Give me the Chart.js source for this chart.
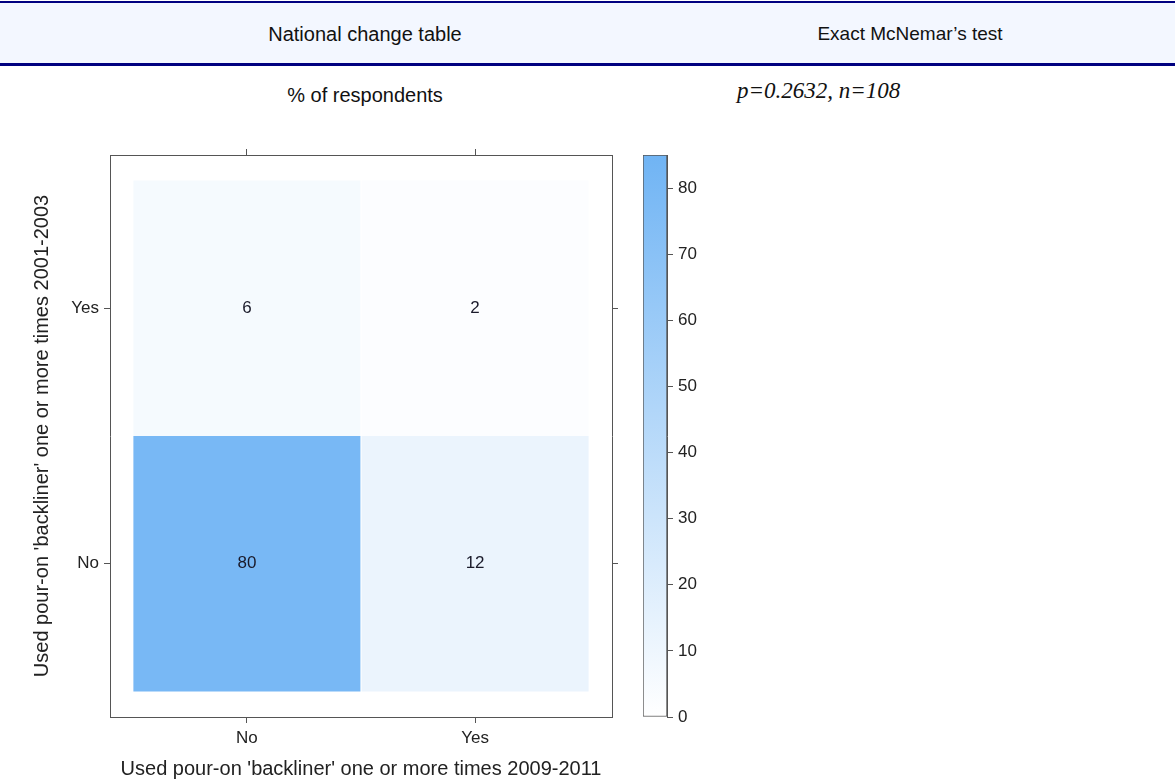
<!DOCTYPE html>
<html>
<head>
<meta charset="utf-8">
<title>National change table</title>
<script src="https://cdn.jsdelivr.net/npm/chart.js@4.4.1/dist/chart.umd.min.js"></script>
<style>
  body { margin: 0; background: #fff; font-family: "Liberation Sans", Arial, sans-serif; }
  #page { position: relative; width: 1175px; height: 781px; overflow: hidden; }
  .header {
    position: absolute; left: 0; top: 1px; width: 1175px; height: 60px;
    background: #f3f7ff; border-top: 2px solid #000080; border-bottom: 3px solid #000080;
  }
  .htext { position: absolute; top: 20px; font-size: 20px; color: #111; text-align: center; white-space: pre; }
  .sub { position: absolute; left: 215px; width: 300px; top: 84px; font-size: 20px; color: #111; text-align: center; }
  .pval { position: absolute; left: 737px; top: 78px; font-family: "Liberation Serif", "Times New Roman", serif; font-style: italic; font-size: 23px; color: #111; }
  canvas { position: absolute; top: 0; }
</style>
</head>
<body>
<div id="page">
  <div class="header">
    <div class="htext" style="left:215px;width:300px;">National change table</div>
    <div class="htext" style="left:760px;width:300px;font-size:19px;">Exact McNemar’s test</div>
  </div>
  <div class="sub">% of respondents</div>
  <div class="pval">p=0.2632, n=108</div>
  <div style="position:absolute;left:0;top:0;width:640px;height:781px;"><canvas id="table"></canvas></div>
  <div style="position:absolute;left:620px;top:0;width:120px;height:781px;"><canvas id="scale"></canvas></div>
</div>
<script>
// answers, 2009-2011 across, 2001-2003 up
const xLabels = ['No', 'Yes'];
const yLabels = ['No', 'Yes'];

// % of respondents in each cell, one array per 2001-2003 answer
const rowNo = [80, 12];
const rowYes = [6, 2];

// colour key
const keyTicks = [0, 10, 20, 30, 40, 50, 60, 70, 80];
const keyMax = 85;

const lowColor = [255, 255, 255];
const highColor = [112, 180, 244];

function cellColor(v) {
    const t = Math.min(v / keyMax, 1);
    const c = lowColor.map((lo, i) => Math.round(lo + (highColor[i] - lo) * t));
    return `rgb(${c[0]},${c[1]},${c[2]})`;
}

const rows = [rowNo, rowYes];
const cells = [];
rows.forEach((row, r) => {
    row.forEach((v, c) => {
        cells.push({ x: c, y: [r - 0.5, r + 0.5], v });
    });
});

const axisColor = '#555';
const tickFont = { family: '"Liberation Sans", Arial, sans-serif', size: 17 };
const titleFont = { family: '"Liberation Sans", Arial, sans-serif', size: 20 };

// write the value in the middle of each cell
const cellLabels = {
    id: 'cellLabels',
    afterDatasetsDraw(chart) {
        const { ctx } = chart;
        const meta = chart.getDatasetMeta(0);
        ctx.save();
        ctx.font = '17px "Liberation Sans", Arial, sans-serif';
        ctx.fillStyle = '#1a1a2a';
        ctx.textAlign = 'center';
        ctx.textBaseline = 'middle';
        meta.data.forEach((bar, i) => {
            const p = bar.getCenterPoint();
            ctx.fillText(cells[i].v, p.x, p.y);
        });
        ctx.restore();
    }
};

function twoTicks(scale) {
    scale.ticks = [{ value: 0 }, { value: 1 }];
}

const sideGrid = { display: true, drawOnChartArea: false, drawTicks: true, tickLength: 6, color: axisColor, offset: false };

new Chart(document.getElementById('table'), {
    type: 'bar',
    data: {
        datasets: [{
            data: cells,
            backgroundColor: cells.map(c => cellColor(c.v)),
            borderWidth: 0,
            barPercentage: 0.995,
            categoryPercentage: 1
        }]
    },
    options: {
        responsive: true,
        maintainAspectRatio: false,
        animation: false,
        layout: { padding: { left: 0, right: 0, top: 145, bottom: 0 } },
        plugins: { legend: { display: false }, tooltip: { enabled: false } },
        scales: {
            x: {
                type: 'linear', position: 'bottom', min: -0.6, max: 1.6, offset: false,
                afterBuildTicks: twoTicks,
                afterFit: s => { s.height = 64; },
                ticks: { callback: v => xLabels[v], font: tickFont, color: '#222', padding: 5, maxRotation: 0 },
                grid: sideGrid,
                border: { display: true, color: axisColor },
                title: {
                    display: true, text: "Used pour-on 'backliner' one or more times 2009-2011",
                    font: titleFont, color: '#222', padding: { top: 0, bottom: 0 }
                }
            },
            x2: {
                type: 'linear', position: 'top', min: -0.6, max: 1.6, offset: false,
                afterBuildTicks: twoTicks,
                afterFit: s => { s.height = 10; },
                ticks: { display: false },
                grid: sideGrid,
                border: { display: true, color: axisColor }
            },
            y: {
                type: 'linear', position: 'left', min: -0.6, max: 1.6,
                afterBuildTicks: twoTicks,
                afterFit: s => { s.width = 110; },
                ticks: { callback: v => yLabels[v], font: tickFont, color: '#222', padding: 5 },
                grid: sideGrid,
                border: { display: true, color: axisColor },
                title: {
                    display: true, text: "Used pour-on 'backliner' one or more times 2001-2003",
                    font: titleFont, color: '#222', padding: { top: 30, bottom: 0 }
                }
            },
            y2: {
                type: 'linear', position: 'right', min: -0.6, max: 1.6,
                afterBuildTicks: twoTicks,
                afterFit: s => { s.width = 28; },
                ticks: { display: false },
                grid: sideGrid,
                border: { display: true, color: axisColor }
            }
        }
    },
    plugins: [cellLabels]
});

// colour key on the right
new Chart(document.getElementById('scale'), {
    type: 'bar',
    data: {
        labels: [''],
        datasets: [{
            data: [[0, keyMax]],
            backgroundColor: (ctx) => {
                const chart = ctx.chart;
                const y = chart.scales.y;
                if (!chart.chartArea || !y) return cellColor(keyMax / 2);
                const g = chart.ctx.createLinearGradient(0, y.getPixelForValue(0), 0, y.getPixelForValue(keyMax));
                g.addColorStop(0, cellColor(0));
                g.addColorStop(1, cellColor(keyMax));
                return g;
            },
            borderColor: axisColor,
            borderWidth: 1,
            borderSkipped: false,
            barPercentage: 1,
            categoryPercentage: 1
        }]
    },
    options: {
        responsive: true,
        maintainAspectRatio: false,
        animation: false,
        layout: { padding: { left: 23, right: 0, top: 155, bottom: 64 } },
        plugins: { legend: { display: false }, tooltip: { enabled: false } },
        scales: {
            x: { display: false },
            y: {
                position: 'right', min: 0, max: keyMax,
                afterBuildTicks: s => { s.ticks = keyTicks.map(v => ({ value: v })); },
                afterFit: s => { s.width = 73; },
                ticks: { font: tickFont, color: '#222', padding: 5 },
                grid: { display: true, drawOnChartArea: false, drawTicks: true, tickLength: 6, color: axisColor },
                border: { display: true, color: axisColor }
            }
        }
    }
});
</script>
</body>
</html>
